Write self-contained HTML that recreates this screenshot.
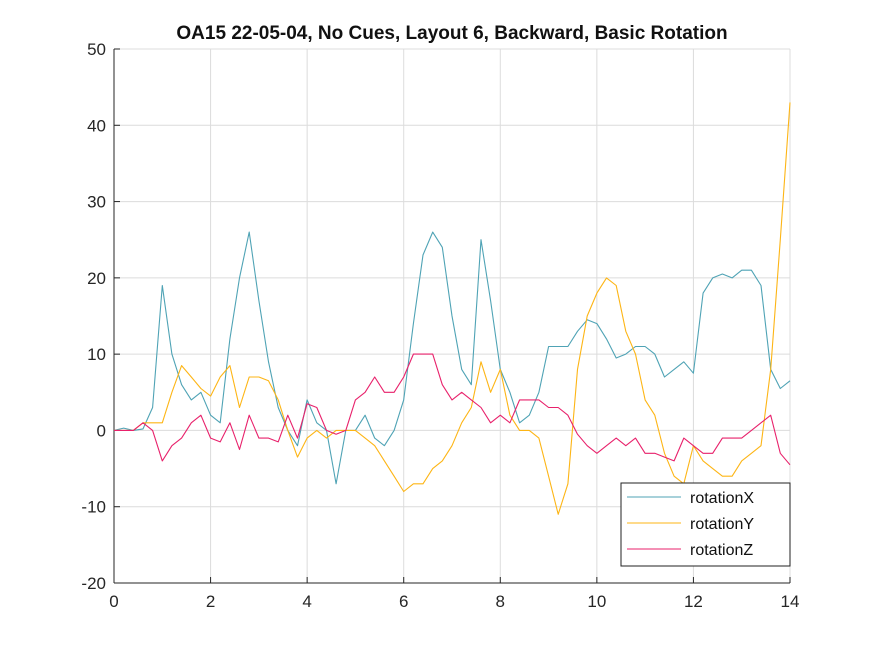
<!DOCTYPE html>
<html><head><meta charset="utf-8"><style>
body{margin:0;background:#fff;}
svg{display:block;font-family:"Liberation Sans",Arial,sans-serif;}
</style></head><body>
<svg id="chart" width="875" height="656">
<rect width="875" height="656" fill="#fff"/>
<g id="grid"></g><g id="axes"></g><g id="series"></g>
<text x="452" y="39" text-anchor="middle" font-size="19" font-weight="bold" fill="#111">OA15 22-05-04, No Cues, Layout 6, Backward, Basic Rotation</text>
<g>
<rect x="621" y="483" width="169" height="83" fill="#fff" stroke="#222" stroke-width="1"/>
<g><line x1="627" y1="497" x2="681" y2="497" stroke="#4fa3b5"/><text x="690" y="503" font-size="16" fill="#111">rotationX</text></g>
<g><line x1="627" y1="523" x2="681" y2="523" stroke="#fdb515"/><text x="690" y="529" font-size="16" fill="#111">rotationY</text></g>
<g><line x1="627" y1="549" x2="681" y2="549" stroke="#e8216b"/><text x="690" y="555" font-size="16" fill="#111">rotationZ</text></g>
</g>
</svg>
<script>
const xTicks=[0,2,4,6,8,10,12,14];
const yTicks=[-20,-10,0,10,20,30,40,50];
const rotationX=[0,.3,0,.2,3,19,10,6,4,5, 2,1,12,20,26,17,9,3,0,-2, 4,1,0,-7,0,0,2,-1,-2,0, 4,14,23,26,24,15,8,6,25,17, 8,5,1,2,5,11,11,11,13,14.5, 14,12,9.5,10,11,11,10,7,8,9, 7.5,18,20,20.5,20,21,21,19,8,5.5, 6.5];
const rotationY=[0,0,0,1,1,1,5,8.5,7,5.5, 4.5,7,8.5,3,7,7,6.5,4,0,-3.5, -1,0,-1,0,0,0,-1,-2,-4,-6, -8,-7,-7,-5,-4,-2,1,3,9,5, 8,2,0,0,-1,-6,-11,-7,8,15, 18,20,19,13,10,4,2,-3,-6,-7, -2,-4,-5,-6,-6,-4,-3,-2,8,25, 43];
const rotationZ=[0,0,0,1,0,-4,-2,-1,1,2, -1,-1.5,1,-2.5,2,-1,-1,-1.5,2,-1, 3.5,3,0,-0.5,0,4,5,7,5,5, 7,10,10,10,6,4,5,4,3,1, 2,1,4,4,4,3,3,2,-0.5,-2, -3,-2,-1,-2,-1,-3,-3,-3.5,-4,-1, -2,-3,-3,-1,-1,-1,0,1,2,-3, -4.5];
const L=114,R=790,T=49,B=583;
const sx=v=>L+(v-0)/(14-0)*(R-L);
const sy=v=>B-(v+20)/70*(B-T);
const NS="http://www.w3.org/2000/svg";
function mk(tag,attrs,parent){const e=document.createElementNS(NS,tag);for(const k in attrs)e.setAttribute(k,attrs[k]);parent.appendChild(e);return e;}
const grid=document.getElementById('grid'),axes=document.getElementById('axes'),ser=document.getElementById('series');
mk('rect',{x:L,y:T,width:R-L,height:B-T,fill:'#fff'},grid);
xTicks.forEach(t=>{
 const g=mk('line',{x1:sx(t),x2:sx(t),y1:T,y2:B,stroke:'#dcdcdc'},grid);
 
 
 const tk=mk('line',{x1:sx(t),x2:sx(t),y1:B,y2:B-6,stroke:'#262626'},axes);
 const tx=mk('text',{x:sx(t),y:B+24,'text-anchor':'middle','font-size':17,fill:'#262626'},axes);
 tx.textContent=t;
 
 
});
yTicks.forEach(t=>{
 const g=mk('line',{x1:L,x2:R,y1:sy(t),y2:sy(t),stroke:'#dcdcdc'},grid);
 
 
 mk('line',{x1:L,x2:L+6,y1:sy(t),y2:sy(t),stroke:'#262626'},axes);
 const tx=mk('text',{x:L-8,y:sy(t)+6,'text-anchor':'end','font-size':17,fill:'#262626'},axes);
 tx.textContent=t;
 
 
});
mk('line',{x1:L,x2:R,y1:B,y2:B,stroke:'#262626'},axes);
mk('line',{x1:L,x2:L,y1:T,y2:B,stroke:'#262626'},axes);
function draw(arr,color,name){
 const n=arr.length;
 const d=arr.map((v,i)=>(i?'L':'M')+sx(i*14/(n-1)).toFixed(1)+','+sy(v).toFixed(1)).join(' ');
 const p=mk('path',{d:d,fill:'none',stroke:color,'stroke-width':1.1,'stroke-linejoin':'round'},ser);
 
 
}
draw(rotationX,'#4fa3b5','series-rotationx');
draw(rotationY,'#fdb515','series-rotationy');
draw(rotationZ,'#e8216b','series-rotationz');
</script>
</body></html>
